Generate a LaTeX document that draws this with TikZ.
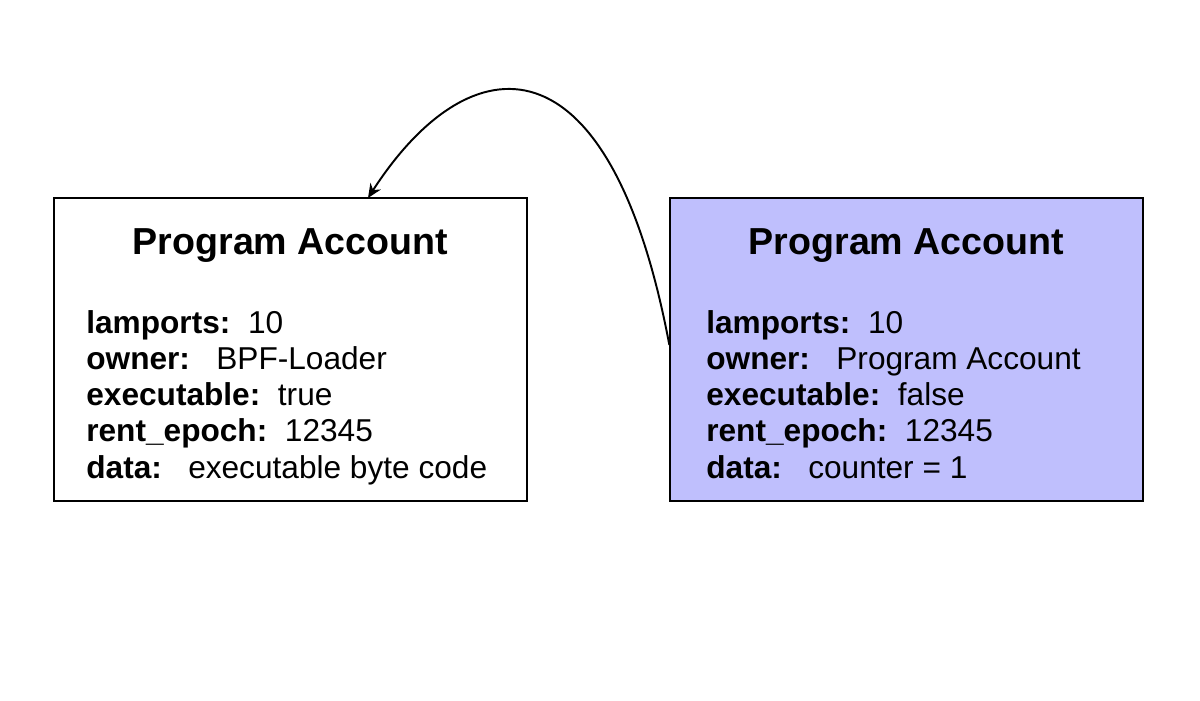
\documentclass[tikz,border=0pt]{standalone}
\usepackage{fontspec}
\setmainfont{Liberation Sans}
\usepackage{xcolor}
\usetikzlibrary{arrows.meta,positioning}
\definecolor{lavender}{RGB}{191,191,253}
\begin{document}
\begin{tikzpicture}[x=0.02cm,y=-0.02cm]
	\useasboundingbox (0,0) rectangle (1200,700);
	\tikzstyle{account} = [draw=black,line width=0.8pt,rectangle,minimum width=9.46cm,minimum height=6.06cm,inner sep=0pt]
	\tikzstyle{title} = [font=\fontsize{21.4}{24}\selectfont\bfseries,inner sep=0pt]
	\tikzstyle{fields} = [font=\fontsize{18}{20.5}\selectfont,align=left,anchor=base west,inner sep=0pt]
	\tikzstyle{edge} = [-{Stealth[length=8pt,width=7pt]},line width=1.1pt]
	%left account
	\node[account] (acc1) at (290.5,349.5) {};
	\node[title] (T1) at (290.5,246) {Program Account};
	\node[fields] (D1) at (86,478) {\textbf{lamports:}\ \ 10\\
	\textbf{owner:}\ \ \ BPF-Loader\\
	\textbf{executable:}\ \ true\\
	\textbf{rent\_epoch:}\ \ 12345\\
	\textbf{data:}\ \ \ executable byte code};
	%right account
	\node[account,fill=lavender] (acc2) at (906.5,349.5) {};
	\node[title] (T2) at (906.5,246) {Program Account};
	\node[fields] (D2) at (706,478) {\textbf{lamports:}\ \ 10\\
	\textbf{owner:}\ \ \ Program Account\\
	\textbf{executable:}\ \ false\\
	\textbf{rent\_epoch:}\ \ 12345\\
	\textbf{data:}\ \ \ counter = 1};
	\coordinate (src) at (acc2.west |- 0,345);
	\coordinate (dst) at (368,198);
	\draw[edge] (src) .. controls (610,30) and (470,40) .. (dst);
\end{tikzpicture}
\end{document}
